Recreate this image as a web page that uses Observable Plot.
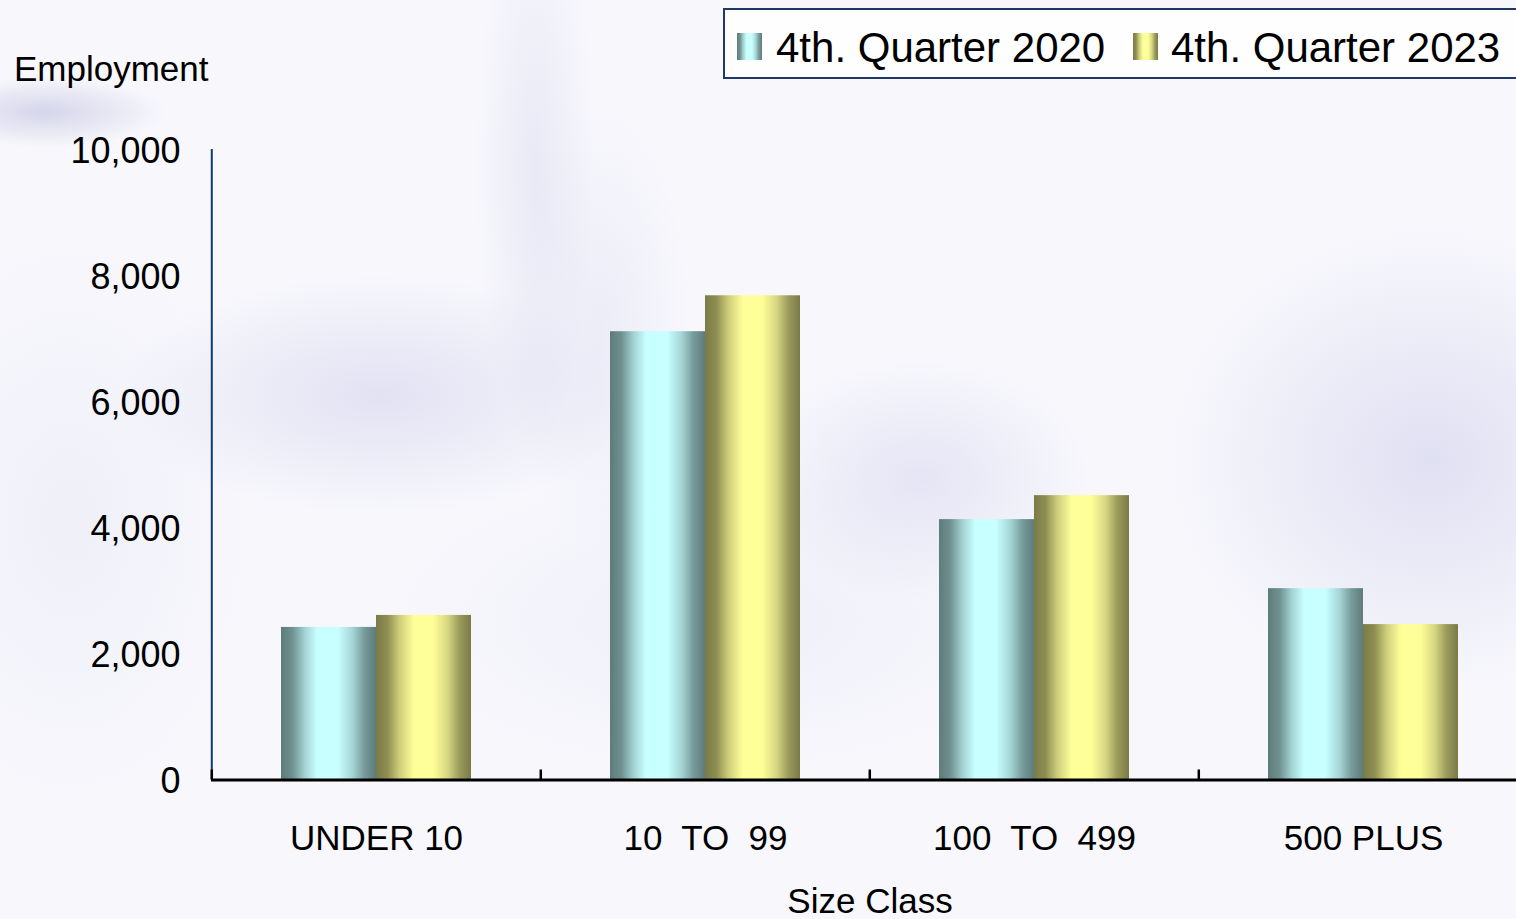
<!DOCTYPE html>
<html>
<head>
<meta charset="utf-8">
<script src="https://cdn.jsdelivr.net/npm/d3@7"></script>
<script src="https://cdn.jsdelivr.net/npm/@observablehq/plot@0.6"></script>
<style>
html, body { margin: 0; padding: 0; }
body {
  width: 1516px; height: 919px; overflow: hidden; position: relative;
  font-family: "Liberation Sans", Arial, sans-serif; color: #000;
  background:
    radial-gradient(ellipse 120px 35px at 45px 112px, rgba(190,190,222,0.6), rgba(190,190,222,0)),
    radial-gradient(ellipse 260px 120px at 380px 395px, rgba(208,208,236,0.55), rgba(208,208,236,0)),
    radial-gradient(ellipse 60px 280px at 535px 170px, rgba(212,212,238,0.4), rgba(212,212,238,0)),
    radial-gradient(ellipse 90px 220px at 600px 330px, rgba(220,220,242,0.4), rgba(220,220,242,0)),
    radial-gradient(ellipse 170px 120px at 920px 480px, rgba(210,210,238,0.5), rgba(210,210,238,0)),
    radial-gradient(ellipse 260px 230px at 1430px 460px, rgba(205,205,235,0.55), rgba(205,205,235,0)),
    radial-gradient(ellipse 330px 150px at 720px 620px, rgba(228,228,245,0.45), rgba(228,228,245,0)),
    radial-gradient(ellipse 180px 280px at 70px 520px, rgba(228,228,245,0.4), rgba(228,228,245,0)),
    #F7F7FC;
}
#chart { position: absolute; left: 0; top: 0; }
#chart svg text { white-space: pre; }
.lbl { position: absolute; font-size: 35px; line-height: 1; white-space: pre; }
#legend {
  position: absolute; left: 723px; top: 8px; width: 830px; height: 71px;
  box-sizing: border-box; border: 2px solid #1F3864; background: rgba(255,255,255,0.88);
}
.sw { position: absolute; width: 25px; height: 27px; }
.lt { position: absolute; font-size: 42px; line-height: 1; white-space: pre; }
</style>
</head>
<body>
<div id="chart"></div>
<div id="ylabel" class="lbl" style="left:14px; top:51px;"></div>
<div id="xlabel" class="lbl" style="left:620px; top:883px; width:500px; text-align:center;"></div>
<div id="legend"></div>
<script>
// ---- data ----
const categories = ["UNDER 10", "10  TO  99", "100  TO  499", "500 PLUS"];
const seriesNames = ["4th. Quarter 2020", "4th. Quarter 2023"];
const q4_2020 = [2420, 7110, 4130, 3035];
const q4_2023 = [2610, 7680, 4510, 2465];
const yTicks = [0, 2000, 4000, 6000, 8000, 10000];
const yTitle = "Employment";
const xTitle = "Size Class";

// ---- styles ----
const cyanStops = [[0, "#5F7B7B"], [0.12, "#6F9191"], [0.25, "#A3D2D2"], [0.38, "#C8FFFF"], [0.6, "#C8FFFF"], [0.75, "#A6D6D6"], [0.88, "#769A9A"], [1, "#5F7B7B"]];
const yellowStops = [[0, "#7A7A48"], [0.12, "#8E8E52"], [0.25, "#CFCF7C"], [0.4, "#FFFF99"], [0.6, "#FFFF99"], [0.75, "#D8D883"], [0.88, "#9A9A5B"], [1, "#7A7A48"]];

const data2020 = categories.map((c, i) => ({category: c, value: q4_2020[i]}));
const data2023 = categories.map((c, i) => ({category: c, value: q4_2023[i]}));

function gradientDefs() {
  const defs = d3.create("svg:defs");
  const add = (id, stops) => {
    const g = defs.append("linearGradient").attr("id", id)
      .attr("x1", 0).attr("x2", 1).attr("y1", 0).attr("y2", 0);
    stops.forEach(([o, c]) => g.append("stop").attr("offset", o).attr("stop-color", c));
  };
  add("g2020", cyanStops);
  add("g2023", yellowStops);
  return defs.node();
}

const xRange = [211, 1528.7];
const step = (xRange[1] - xRange[0]) / categories.length;
const font = "'Liberation Sans', Arial, sans-serif";

const chart = Plot.plot({
  width: 1516,
  height: 919,
  marginLeft: 211,
  marginRight: 0,
  marginTop: 149,
  marginBottom: 139,
  style: {background: "none", fontFamily: font, color: "#000", overflow: "visible"},
  x: {domain: categories, range: xRange, paddingInner: 0.423, paddingOuter: 0.2115, align: 0.5},
  y: {domain: [0, 10000], range: [779.5, 149]},
  marks: [
    () => gradientDefs(),
    Plot.barY(data2020, {x: "category", y: "value", fill: "url(#g2020)", insetRight: 95}),
    Plot.barY(data2023, {x: "category", y: "value", fill: "url(#g2023)", insetLeft: 95}),
    Plot.ruleX(categories.slice(0, 1), {x: d => d, dx: -step / 2, y1: 0, y2: 10000, stroke: "#0B3B78", strokeWidth: 2}),
    Plot.ruleX(categories, {x: d => d, dx: -step / 2, y1: 0, y2: 0, insetBottom: 10, stroke: "#000", strokeWidth: 2.5}),
    Plot.ruleY([0], {stroke: "#000", strokeWidth: 3}),
    Plot.axisY({ticks: yTicks, tickFormat: d3.format(","), tickSize: 0, tickPadding: 31, fontSize: 36, dy: 1.5, label: null}),
    Plot.axisX({tickSize: 0, tickPadding: 45, fontSize: 35, label: null})
  ]
});
document.getElementById("chart").appendChild(chart);

document.getElementById("ylabel").textContent = yTitle;
document.getElementById("xlabel").textContent = xTitle;

// legend
const legend = document.getElementById("legend");
const css = stops => "linear-gradient(to right, " + stops.map(([o, c]) => c + " " + (o * 100) + "%").join(", ") + ")";
const items = [
  {name: seriesNames[0], stops: cyanStops, sx: 737, tx: 776},
  {name: seriesNames[1], stops: yellowStops, sx: 1133, tx: 1171}
];
items.forEach(it => {
  const sw = document.createElement("div");
  sw.className = "sw";
  sw.style.left = (it.sx - 725) + "px";
  sw.style.top = (33 - 10) + "px";
  sw.style.background = css(it.stops);
  legend.appendChild(sw);
  const t = document.createElement("div");
  t.className = "lt";
  t.style.left = (it.tx - 725) + "px";
  t.style.top = (26.5 - 10) + "px";
  t.textContent = it.name;
  legend.appendChild(t);
});
</script>
</body>
</html>
